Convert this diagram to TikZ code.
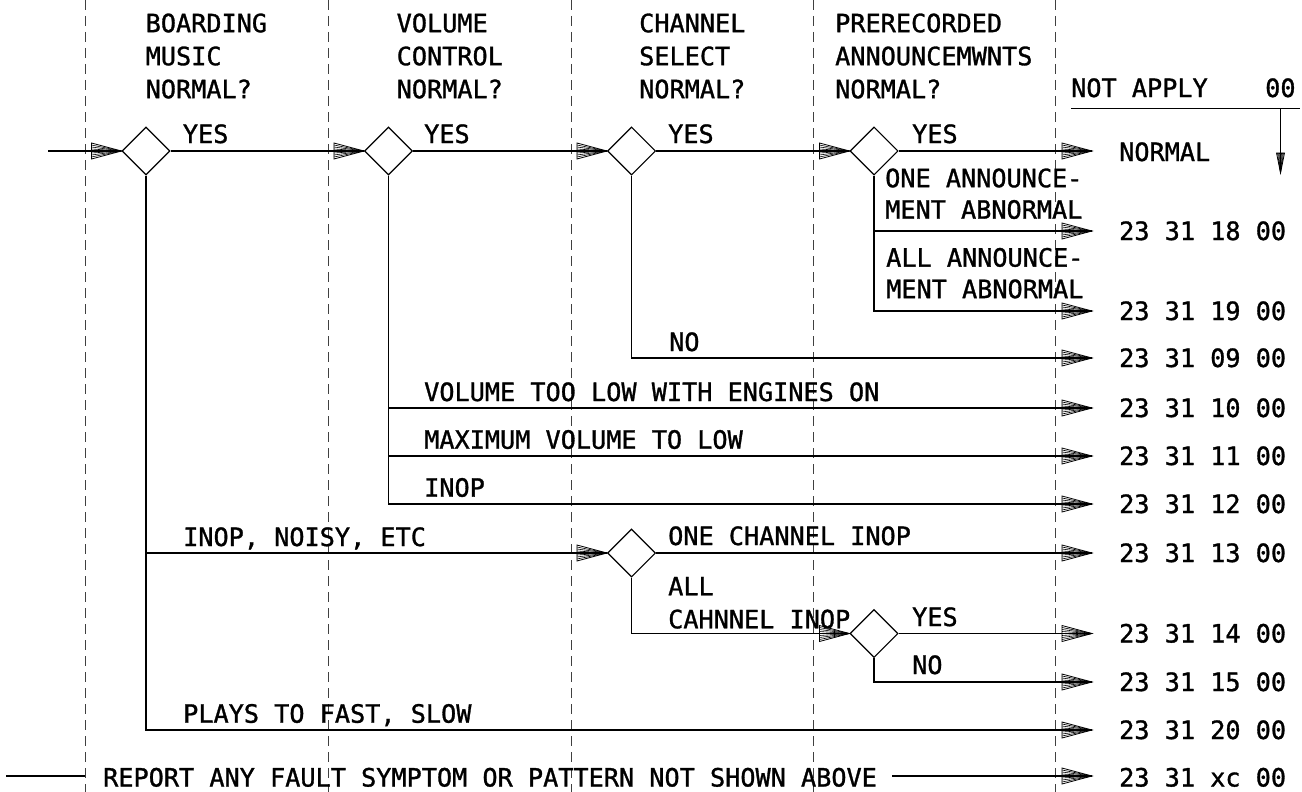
\documentclass[tikz,border=0pt]{standalone}
\usepackage{fontspec}
\newfontfamily\cadfont[FakeBold=1.2]{DejaVu Sans Mono}
\usetikzlibrary{shapes.geometric,decorations.markings}
\newcommand{\hatchtip}[2]{%
  \draw[line width=0.8pt,line join=miter] (0,0) -- (-#1,#2) -- (-#1,-#2) -- cycle;
  \foreach \k in {-0.75,-0.5,-0.25,0,0.25,0.5,0.75} \draw[line width=0.6pt] (0,0) -- (-#1,\k*#2);
}
\tikzset{
  conn/.style={line width=1.1pt},
  harrow/.style={postaction={decorate,decoration={markings,mark=at position 1 with {\hatchtip{30}{8}}}}},
  harrowsm/.style={postaction={decorate,decoration={markings,mark=at position 1 with {\hatchtip{20}{4}}}}},
  dia/.style={draw,diamond,aspect=1,minimum width=48pt,minimum height=48pt,inner sep=0pt,line width=1.1pt},
  guide/.style={dash pattern=on 10pt off 6pt,line width=0.9pt,black!75},
  lab/.style={anchor=base west,inner sep=0pt,font=\cadfont\fontsize{25.2}{33}\selectfont},
  head/.style={anchor=north west,inner sep=0pt,align=left,font=\cadfont\fontsize{25.2}{33}\selectfont},
  ann/.style={anchor=north west,inner sep=0pt,align=left,font=\cadfont\fontsize{25.2}{31.5}\selectfont},
}
\begin{document}
\begin{tikzpicture}[x=1pt,y=-1pt]
\useasboundingbox (0,0) rectangle (1302,792);

% column guides
\foreach \gx in {85,328,571,813,1055}
  \draw[guide] (\gx,0) -- (\gx,792);

% headers
\node[head] (h1) at (145.5,13.3) {BOARDING\\MUSIC\\NORMAL?};
\node[head] (h2) at (396.5,13.3) {VOLUME\\CONTROL\\NORMAL?};
\node[head] (h3) at (639,13.3) {CHANNEL\\SELECT\\NORMAL?};
\node[head] (h4) at (835,13.3) {PRERECORDED\\ANNOUNCEMWNTS\\NORMAL?};
\node[lab] (na) at (1071,97) {NOT APPLY};
\node[lab] (na0) at (1265,97) {00};
\coordinate (nal) at (1071,108);
\coordinate (nar) at (1300,108);
\draw[line width=1pt] (nal) -- (nar);
\coordinate (nv1) at (1280.5,108);
\coordinate (nv2) at (1280.5,173);
\draw[conn,harrowsm] (nv1) -- (nv2);

% decisions
\node[dia] (d1) at (146,151) {};
\node[dia] (d2) at (388.5,151) {};
\node[dia] (d3) at (631.5,151) {};
\node[dia] (d4) at (874,151) {};
\node[dia] (d5) at (631.5,553) {};
\node[dia] (d6) at (874,633.5) {};

% arrow ends
\coordinate (in) at (48,151);
\coordinate (t0) at (1092,151);
\coordinate (t18) at (1092,231);
\coordinate (t19) at (1092,311);
\coordinate (t09) at (1092,358);
\coordinate (t10) at (1092,408);
\coordinate (t11) at (1092,456);
\coordinate (t12) at (1092,504);
\coordinate (t13) at (1092,553);
\coordinate (t14) at (1092,633.5);
\coordinate (t15) at (1092,682);
\coordinate (t20) at (1092,730);
\coordinate (txc) at (1092,776);
\coordinate (rs) at (6,776);
\coordinate (re) at (85,776);
\coordinate (rb) at (892,776);

% outcomes
\node[lab] (o0) at (1119,161) {NORMAL};
\node[lab] (o18) at (1119,240) {23 31 18 00};
\node[lab] (o19) at (1119,320) {23 31 19 00};
\node[lab] (o09) at (1119,367) {23 31 09 00};
\node[lab] (o10) at (1119,417) {23 31 10 00};
\node[lab] (o11) at (1119,465) {23 31 11 00};
\node[lab] (o12) at (1119,513) {23 31 12 00};
\node[lab] (o13) at (1119,562) {23 31 13 00};
\node[lab] (o14) at (1119,642.5) {23 31 14 00};
\node[lab] (o15) at (1119,691) {23 31 15 00};
\node[lab] (o20) at (1119,739) {23 31 20 00};
\node[lab] (oxc) at (1119,786.5) {23 31 xc 00};

% connectors
\draw[conn,harrow] (in) -- (d1.west);
\draw[conn,harrow] (d1.east) -- (d2.west);
\draw[conn,harrow] (d2.east) -- (d3.west);
\draw[conn,harrow] (d3.east) -- (d4.west);
\draw[conn,harrow] (d4.east) -- (t0);
\draw[conn,harrow] (d4.south) |- (t18);
\draw[conn,harrow] (d4.south) |- (t19);
\draw[conn,harrow] (d3.south) |- (t09);
\draw[conn,harrow] (d2.south) |- (t10);
\draw[conn,harrow] (d2.south) |- (t11);
\draw[conn,harrow] (d2.south) |- (t12);
\draw[conn,harrow] (d1.south) |- (d5.west);
\draw[conn,harrow] (d5.east) -- (t13);
\draw[conn,harrow] (d5.south) |- (d6.west);
\draw[conn,harrow] (d6.east) -- (t14);
\draw[conn,harrow] (d6.south) |- (t15);
\draw[conn,harrow] (d1.south) |- (t20);
\draw[conn] (rs) -- (re);
\draw[conn,harrow] (rb) -- (txc);

% branch labels
\node[lab] (y1) at (182.7,143) {YES};
\node[lab] (y2) at (424,143) {YES};
\node[lab] (y3) at (668,143) {YES};
\node[lab] (y4) at (912,143) {YES};
\node[ann] (a1) at (885,168.3) {ONE ANNOUNCE-\\MENT ABNORMAL};
\node[ann] (a2) at (886,247.7) {ALL ANNOUNCE-\\MENT ABNORMAL};
\node[lab] (n3) at (669,351) {NO};
\node[lab] (v1) at (424,401) {VOLUME TOO LOW WITH ENGINES ON};
\node[lab] (v2) at (424,448.7) {MAXIMUM VOLUME TO LOW};
\node[lab] (v3) at (424,496.7) {INOP};
\node[lab] (b1) at (183,546) {INOP, NOISY, ETC};
\node[lab] (c1) at (668,545) {ONE CHANNEL INOP};
\node[head] (c2) at (668,576.7) {ALL\\CAHNNEL INOP};
\node[lab] (y6) at (912,626) {YES};
\node[lab] (n6) at (912,674) {NO};
\node[lab] (b2) at (183,722.7) {PLAYS TO FAST, SLOW};
\node[lab] (rep) at (103,786.5) {REPORT ANY FAULT SYMPTOM OR PATTERN NOT SHOWN ABOVE};
\end{tikzpicture}
\end{document}
